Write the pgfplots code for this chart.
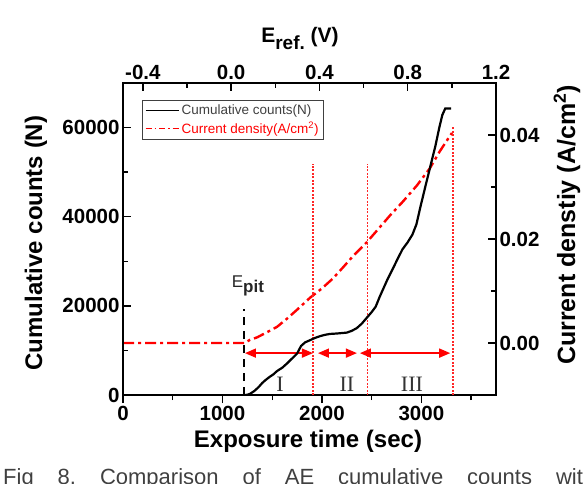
\documentclass[border=0pt]{standalone}
\usepackage{pgfplots}
\pgfplotsset{compat=1.18}
\usetikzlibrary{arrows.meta}
\usepackage{fontspec}
\setmainfont{Liberation Sans}
\newfontfamily\romanfont{Liberation Serif}
\begin{document}
\begin{tikzpicture}
\pgfplotsset{
  base/.style={
    at={(123pt,-395pt)}, anchor=south west, scale only axis,
    width=373pt, height=312pt,
    xmin=0, xmax=3750, scaled ticks=false,
    /pgf/number format/assume math mode=true,
    tick label style={font=\fontsize{20.5}{20.5}\selectfont\bfseries},
    major tick length=8pt, minor tick length=5pt,
    tick style={black, line width=1.4pt},
    axis line style={line width=1.8pt, line cap=rect},
  }
}
% bottom x axis
\begin{axis}[base, ymin=0, ymax=70000,
  axis x line*=bottom, hide y axis,
  tick align=outside,
  xtick={0,1000,2000,3000}, xticklabels={0,1000,2000,3000},
  minor xtick={500,1500,2500,3500}]
\end{axis}
% top x axis
\begin{axis}[base, xmin=-0.49, xmax=1.2, ymin=0, ymax=1,
  axis x line*=top, hide y axis,
  tick align=inside,
  xtick={-0.4,0,0.4,0.8,1.2}, xticklabels={-0.4,0.0,0.4,0.8,1.2},
  minor xtick={-0.2,0.2,0.6,1.0}]
\end{axis}
% right y axis: current density
\begin{axis}[base, ymin=-0.01, ymax=0.05,
  axis y line*=right, hide x axis,
  tick align=inside,
  ytick={0,0.02,0.04}, yticklabels={0.00,0.02,0.04},
  minor ytick={0.01,0.03}]
\addplot[red, line width=2.4pt, dash pattern=on 11pt off 4pt on 3pt off 4pt] coordinates {
(0,0)(1220,0)(1276,0.0006)(1350,0.0011)(1450,0.0021)(1548,0.0031)(1650,0.0047)(1750,0.0064)(1880,0.0087)(2000,0.0105)(2110,0.0124)(2210,0.0145)(2312,0.0167)(2452,0.0194)(2570,0.0220)(2683,0.0245)(2814,0.0272)(2955,0.0303)(3085,0.0336)(3186,0.0369)(3307,0.0404)};
\end{axis}
% left y axis: cumulative counts
\begin{axis}[base, ymin=0, ymax=70000,
  axis y line*=left, hide x axis,
  tick align=inside,
  ytick={0,20000,40000,60000}, yticklabels={0,20000,40000,60000},
  minor ytick={10000,30000,50000},
  legend image code/.code={\draw[#1] (0pt,0pt) -- (33pt,0pt);},
  legend style={at={(axis description cs:0.051,0.9455)}, anchor=north west,
    draw=black!75, line width=0.8pt, font=\fontsize{13.5}{15}\selectfont,
    text=black!75, inner sep=2.5pt, row sep=1.5pt, cells={anchor=west}},
  legend cell align=left]
\addlegendimage{black, line width=1.6pt}
\addlegendentry{Cumulative counts(N)}
\addlegendimage{red, line width=1.6pt, dash pattern=on 6pt off 3pt on 1.5pt off 3pt}
\addlegendentry{\textcolor{red}{Current density(A/cm\textsuperscript{2})}}
% vertical dotted lines
\addplot[red!85, line width=1.2pt, dash pattern=on 2pt off 1.5pt, forget plot] coordinates {(1910,0)(1910,51900)};
\addplot[red!85, line width=1.2pt, dash pattern=on 2pt off 1.5pt, forget plot] coordinates {(2462,0)(2462,51900)};
\addplot[red!85, line width=1.2pt, dash pattern=on 2pt off 1.5pt, forget plot] coordinates {(3317,0)(3317,60400)};
% E_pit dashed line
\addplot[black, line width=2.4pt, dash pattern=on 8pt off 6pt, forget plot] coordinates {(1216,0)(1216,19300)};
% arrows
\addplot[red, line width=1.5pt, {Triangle[length=11pt,width=9pt]}-{Triangle[length=11pt,width=9pt]}, forget plot] coordinates {(1226,9400)(1910,9400)};
\addplot[red, line width=1.5pt, {Triangle[length=11pt,width=9pt]}-{Triangle[length=11pt,width=9pt]}, forget plot] coordinates {(1960,9400)(2352,9400)};
\addplot[red, line width=1.5pt, {Triangle[length=11pt,width=9pt]}-{Triangle[length=11pt,width=9pt]}, forget plot] coordinates {(2382,9400)(3290,9400)};
% cumulative counts
\addplot[black, line width=2.2pt, forget plot] coordinates {
(1220,0)(1250,50)(1280,300)(1320,900)(1360,1700)(1400,2700)(1430,3300)(1470,4000)(1510,4600)(1550,5400)(1600,6100)(1650,7100)(1700,8200)(1750,9300)(1790,11000)(1830,11800)(1880,12300)(1930,12800)(1980,13200)(2030,13500)(2080,13700)(2150,13800)(2250,14000)(2300,14400)(2350,15000)(2400,16000)(2450,17300)(2500,18600)(2540,19800)(2580,22000)(2620,24000)(2660,26000)(2710,28200)(2760,30500)(2810,32700)(2860,34200)(2910,36000)(2950,38300)(2990,42200)(3040,46800)(3090,51300)(3140,55800)(3180,60000)(3210,62800)(3240,64300)(3300,64300)};
\node[font=\romanfont\fontsize{22}{22}\selectfont, text=black!80] at (axis cs:1578,2300) {I};
\node[font=\romanfont\fontsize{22}{22}\selectfont, text=black!80] at (axis cs:2251,2300) {II};
\node[font=\romanfont\fontsize{22}{22}\selectfont, text=black!80] at (axis cs:2905,2300) {III};
\node[font=\fontsize{17}{17}\selectfont, text=black!85] at (axis cs:1256,24500) {E\raisebox{-5pt}{\bfseries pit}};
\end{axis}
% axis titles
\node[rotate=90, anchor=base, font=\bfseries\fontsize{24}{24}\selectfont] at (42pt,-243pt) {Cumulative counts (N)};
\node[rotate=90, anchor=base, font=\bfseries\fontsize{25}{25}\selectfont] at (575pt,-225pt) {Current denstiy (A/cm\textsuperscript{2})};
\node[anchor=base, font=\bfseries\fontsize{24}{24}\selectfont] at (308pt,-447pt) {Exposure time (sec)};
\node[anchor=base, font=\bfseries\fontsize{21}{21}\selectfont] at (300pt,-42pt) {E\raisebox{-7pt}{\fontsize{19}{19}\selectfont ref.} (V)};
% caption
\node[anchor=base west, inner sep=0pt, font=\fontsize{22}{22}\selectfont, text=black!75] at (3pt,-484pt) {\frenchspacing\makebox[592pt][s]{Fig 8. Comparison of AE cumulative counts with}};
\pgfresetboundingbox
\path[use as bounding box] (0pt,0pt) rectangle (583pt,-483pt);
\end{tikzpicture}
\end{document}
